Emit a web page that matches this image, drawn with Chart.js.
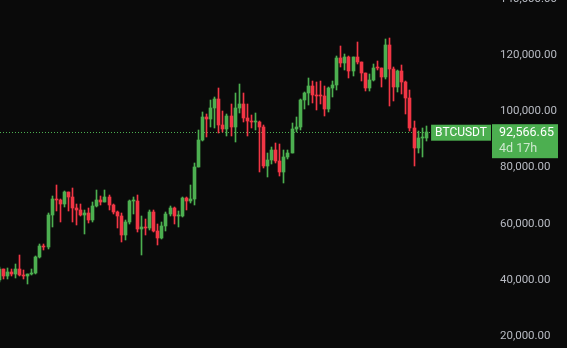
<!DOCTYPE html>
<html>
<head>
<meta charset="utf-8">
<script src="https://cdn.jsdelivr.net/npm/chart.js@4.4.1/dist/chart.umd.min.js"></script>
<style>
  html, body { margin: 0; padding: 0; background: #0a0a0a; }
  #wrap { width: 567px; height: 348px; }
</style>
</head>
<body>
<div id="wrap"><canvas id="chart" width="567" height="348"></canvas></div>
<script>
// ================= DADOS (velas semanais) =================
const weeks = [
  "2023-12-04","2023-12-11","2023-12-18","2023-12-25","2024-01-01","2024-01-08","2024-01-15","2024-01-22",
  "2024-01-29","2024-02-05","2024-02-12","2024-02-19","2024-02-26","2024-03-04","2024-03-11","2024-03-18",
  "2024-03-25","2024-04-01","2024-04-08","2024-04-15","2024-04-22","2024-04-29","2024-05-06","2024-05-13",
  "2024-05-20","2024-05-27","2024-06-03","2024-06-10","2024-06-17","2024-06-24","2024-07-01","2024-07-08",
  "2024-07-15","2024-07-22","2024-07-29","2024-08-05","2024-08-12","2024-08-19","2024-08-26","2024-09-02",
  "2024-09-09","2024-09-16","2024-09-23","2024-09-30","2024-10-07","2024-10-14","2024-10-21","2024-10-28",
  "2024-11-04","2024-11-11","2024-11-18","2024-11-25","2024-12-02","2024-12-09","2024-12-16","2024-12-23",
  "2024-12-30","2025-01-06","2025-01-13","2025-01-20","2025-01-27","2025-02-03","2025-02-10","2025-02-17",
  "2025-02-24","2025-03-03","2025-03-10","2025-03-17","2025-03-24","2025-03-31","2025-04-07","2025-04-14",
  "2025-04-21","2025-04-28","2025-05-05","2025-05-12","2025-05-19","2025-05-26","2025-06-02","2025-06-09",
  "2025-06-16","2025-06-23","2025-06-30","2025-07-07","2025-07-14","2025-07-21","2025-07-28","2025-08-04",
  "2025-08-11","2025-08-18","2025-08-25","2025-09-01","2025-09-08","2025-09-15","2025-09-22","2025-09-29",
  "2025-10-06","2025-10-13","2025-10-20","2025-10-27","2025-11-03","2025-11-10","2025-11-17","2025-11-24",
  "2025-12-01","2025-12-08"
];

const opens = [
  39970,43780,41370,42990,42280,43930,41730,41580, 42030,42580,48300,52140,51730,63110,68950,68390,
  67210,71280,69360,65660,64940,63120,64000,61480, 66270,68500,67770,69650,66650,64250,62680,55860,
  60800,68160,68250,58160,58700,58430,64200,57300, 54850,59130,63580,65600,62800,62850,69000,67930,
  68730,80370,89850,97900,97200,101150,104460,95180, 93700,98300,94500,101300,102600,97700,96460,96120,
  96260,94270,80700,82600,86080,82400,78370,83740, 85170,93750,94320,104120,106450,109000,105700,105600,
  105500,100960,108360,109200,119090,117300,119450,114200, 119300,117400,113500,108250,111150,115300,115250,112150,
  123500,115200,108650,114500,110550,104700,94200,86800, 90360,90600
];

const highs = [
  44700,43800,44290,43800,45880,48970,43570,42200, 43880,48550,52820,52980,63910,69990,73780,68900,
  71770,71300,72800,66900,67200,64730,65500,67700, 71980,70000,71950,70200,66990,64500,63860,61400,
  68380,69400,70080,62750,61800,65000,64900,59800, 60670,64130,66500,66000,64500,69400,69500,73620,
  81500,93400,99600,98900,104000,105200,108350,99950, 98950,102700,106400,109600,106460,102500,98800,99500,
  96500,95000,85300,87450,88750,88500,86100,86400, 95800,97900,104400,106700,112000,110700,110500,110600,
  108900,108500,110600,119500,123200,120200,119800,119300, 124500,117600,113600,113400,116700,117900,115400,125700,
  126200,115900,114800,116400,110700,107500,96600,93100, 94150,94600
];

const lows = [
  39180,40220,40530,41300,40750,41500,40280,38550, 41880,42260,47700,50520,50900,59000,64500,60770,
  66000,64500,60660,59600,62790,56550,60190,60750, 66060,66600,67600,65080,63380,58400,53480,54260,
  59900,63400,57100,49000,56100,57800,57200,52550, 54600,57500,62700,59800,58900,62400,65000,67450,
  66800,80200,89400,90800,94500,94150,92200,92550, 91220,91200,89260,99500,96200,91200,94100,93400,
  78250,80000,76600,81100,81650,77150,74500,83100, 85100,92800,93400,100700,102100,103100,100400,102700,
  98200,99600,105100,107500,115700,114700,112000,112700, 116800,110700,107300,107300,110600,114700,108600,111500,
  102000,103500,106900,106300,98900,93000,80600,85300, 83800,89500
];

const closes = [
  43780,41370,42990,42280,43930,41730,41580,42030, 42580,48300,52140,51730,63110,68950,68390,67210,
  71280,69360,65660,64940,63120,64000,61480,66270, 68500,67770,69650,66650,64250,62680,55860,60800,
  68160,68250,58160,58700,58430,64200,57300,54850, 59130,63580,65600,62800,62850,69000,67930,68730,
  80370,89850,97900,97200,101150,104460,95180,93700, 98300,94500,101300,102600,97700,96460,96120,96260,
  94270,80700,82600,86080,82400,78370,83740,85170, 93750,94320,104120,106450,109000,105700,105600,105500,
  100960,108360,109200,119090,117300,119450,114200,119300, 117400,113500,108250,111150,115300,115250,112150,123500,
  115200,108650,114500,110550,104700,94200,86800,90360, 90600,92566.65
];

const priceTicks = [20000, 40000, 60000, 80000, 100000, 120000, 140000];

const symbol = "BTCUSDT";
const lastPrice = 92566.65;
const countdown = "4d 17h";

// ================= CORES =================
const UP = "#4caf50";
const DOWN = "#f23645";
const candleColors = closes.map((c, i) => c >= opens[i] ? UP : DOWN);

const bodyData = weeks.map((w, i) => ({ x: i, y: [opens[i], closes[i]] }));
const wickData = weeks.map((w, i) => ({ x: i, y: [lows[i], highs[i]] }));

// ================= PLUGINS =================
// encaixa as velas na grade de pixels (fica nítido como no original)
const snapPlugin = {
  id: "snap",
  afterDatasetsUpdate(chart) {
    chart.data.datasets.forEach((ds, d) => {
      chart.getDatasetMeta(d).data.forEach(el => {
        el.x = Math.floor(el.x) + 0.5;
        el.y = Math.round(el.y);
        el.base = Math.round(el.base);
        if (Math.abs(el.base - el.y) < 1) el.base = el.y + 1;
      });
    });
  }
};

const priceLinePlugin = {
  id: "priceLine",
  beforeDraw(chart) {
    const ctx = chart.ctx;
    ctx.save();
    ctx.fillStyle = "#0a0a0a";
    ctx.fillRect(0, 0, chart.width, chart.height);
    ctx.restore();
  },
  beforeDatasetsDraw(chart) {
    const ctx = chart.ctx;
    const area = chart.chartArea;
    const y = Math.round(chart.scales.y.getPixelForValue(lastPrice)) + 0.5;
    ctx.save();
    ctx.strokeStyle = UP;
    ctx.lineWidth = 1;
    ctx.setLineDash([1, 2]);
    ctx.beginPath();
    ctx.moveTo(area.left, y);
    ctx.lineTo(area.right - 58, y);
    ctx.stroke();
    ctx.restore();
  },
  afterDraw(chart) {
    const ctx = chart.ctx;
    const area = chart.chartArea;
    const y = chart.scales.y.getPixelForValue(lastPrice);
    ctx.save();

    // caixa do símbolo
    ctx.font = "12px Roboto";
    const symW = ctx.measureText(symbol).width + 8;
    ctx.fillStyle = UP;
    ctx.fillRect(area.right - symW, y - 7.5, symW, 16);
    ctx.fillStyle = "#ffffff";
    ctx.textBaseline = "middle";
    ctx.textAlign = "center";
    ctx.fillText(symbol, area.right - symW / 2, y + 0.5);

    // caixa do preço
    const left = area.right + 1;
    const top = y - 8;
    ctx.fillStyle = UP;
    ctx.fillRect(left, top, 66, 34);
    ctx.textAlign = "left";
    ctx.font = "12.5px Roboto";
    ctx.fillStyle = "#ffffff";
    ctx.fillText(lastPrice.toLocaleString("en-US", { minimumFractionDigits: 2 }), left + 7, top + 9);
    ctx.fillStyle = "rgba(255,255,255,0.72)";
    ctx.fillText(countdown, left + 7, top + 25);

    ctx.restore();
  }
};

// ================= GRÁFICO =================
new Chart(document.getElementById("chart"), {
  type: "bar",
  data: {
    datasets: [
      {
        label: "wick",
        data: wickData,
        backgroundColor: candleColors,
        barThickness: 1,
        grouped: false,
        order: 2
      },
      {
        label: "body",
        data: bodyData,
        backgroundColor: candleColors,
        barThickness: 3,
        minBarLength: 1,
        grouped: false,
        order: 1
      }
    ]
  },
  options: {
    responsive: false,
    animation: false,
    devicePixelRatio: 1,
    layout: { padding: 0 },
    plugins: {
      legend: { display: false },
      tooltip: { enabled: false }
    },
    scales: {
      x: {
        type: "linear",
        display: false,
        offset: false,
        min: 0.19,
        max: 120.92
      },
      y: {
        type: "linear",
        position: "right",
        min: 15840,
        max: 139573,
        grid: { display: false, drawTicks: false },
        border: { display: false },
        afterBuildTicks: (scale) => {
          scale.ticks = priceTicks.map(v => ({ value: v }));
        },
        afterFit: (scale) => {
          scale.width = 76;
          scale.paddingTop = 0;
          scale.paddingBottom = 0;
        },
        ticks: {
          autoSkip: false,
          padding: 9,
          color: "#b8bbc3",
          font: { family: "Roboto", size: 11.5 },
          callback: (v) => v.toLocaleString("en-US", { minimumFractionDigits: 2, maximumFractionDigits: 2 })
        }
      }
    }
  },
  plugins: [snapPlugin, priceLinePlugin]
});
</script>
</body>
</html>
